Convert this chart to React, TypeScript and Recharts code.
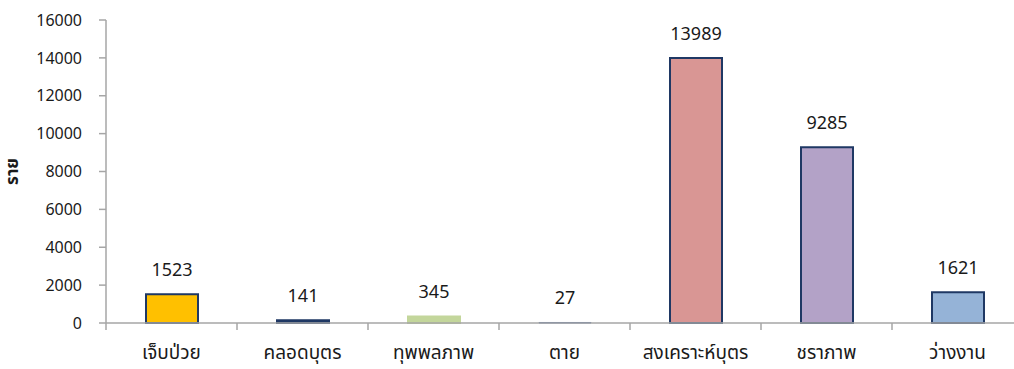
import { BarChart, Bar, XAxis, YAxis, Cell, LabelList, Label } from 'recharts';

const categories = ['เจ็บป่วย', 'คลอดบุตร', 'ทุพพลภาพ', 'ตาย', 'สงเคราะห์บุตร', 'ชราภาพ', 'ว่างงาน'];
const values = [1523, 141, 345, 27, 13989, 9285, 1621];
const yTicks = [0, 2000, 4000, 6000, 8000, 10000, 12000, 14000, 16000];

const fills = ['#FFC000', '#1F3864', '#C3D69B', '#4F6D9E', '#D99694', '#B3A2C7', '#95B3D7'];
const strokes = ['#1F3864', '#1F3864', '#C3D69B', '#4F6D9E', '#1F3864', '#1F3864', '#1F3864'];

const font = '"Noto Sans Thai", Tahoma, "Noto Sans", sans-serif';

const data = categories.map((name, i) => ({ name, value: values[i] }));

function CategoryTick(props: any) {
  const { x, y, payload } = props;
  const half = payload?.offset || 65.5;
  return (
    <g>
      <line x1={x - half} x2={x - half} y1={y} y2={y + 7} stroke="#A6A6A6" strokeWidth={1.5} />
      <text x={x} y={y + 36} textAnchor="middle" fontSize={19} fill="#1a1a1a" fontFamily={font}>
        {payload.value}
      </text>
    </g>
  );
}

function AxisTitle(props: any) {
  const { viewBox } = props;
  const cy = viewBox.y + viewBox.height / 2;
  return (
    <text
      x={18}
      y={cy}
      transform={`rotate(-90, 18, ${cy})`}
      textAnchor="middle"
      fontSize={17}
      fontWeight="bold"
      fill="#1a1a1a"
      fontFamily={font}
    >
      ราย
    </text>
  );
}

export default function App() {
  return (
    <div style={{ width: 1014, height: 369, overflow: 'hidden', background: '#fff' }}>
      <style>{'body{margin:0;overflow:hidden}'}</style>
      <BarChart
        width={1014}
        height={369}
        data={data}
        margin={{ top: 20, right: -9, bottom: 0, left: 0 }}
      >
        <XAxis
          dataKey="name"
          height={46}
          axisLine={{ stroke: '#A6A6A6', strokeWidth: 1.5 }}
          tickLine={false}
          tickSize={0}
          tickMargin={0}
          interval={0}
          tick={<CategoryTick />}
        />
        <YAxis
          width={106}
          domain={[0, 16000]}
          ticks={yTicks}
          interval={0}
          axisLine={{ stroke: '#A6A6A6', strokeWidth: 1.5 }}
          tickLine={{ stroke: '#A6A6A6', strokeWidth: 1.5 }}
          tickSize={7}
          tickMargin={17}
          tick={{ fontSize: 16, fill: '#1a1a1a', fontFamily: font }}
        >
          <Label content={<AxisTitle />} />
        </YAxis>
        <Bar dataKey="value" barSize={52} isAnimationActive={false}>
          {data.map((d, i) => (
            <Cell
              key={d.name}
              fill={fills[i]}
              stroke={strokes[i]}
              strokeWidth={i === 3 ? 1 : 2}
            />
          ))}
          <LabelList
            dataKey="value"
            position="top"
            offset={18}
            fontSize={18}
            fill="#1a1a1a"
            fontFamily={font}
          />
        </Bar>
      </BarChart>
    </div>
  );
}
